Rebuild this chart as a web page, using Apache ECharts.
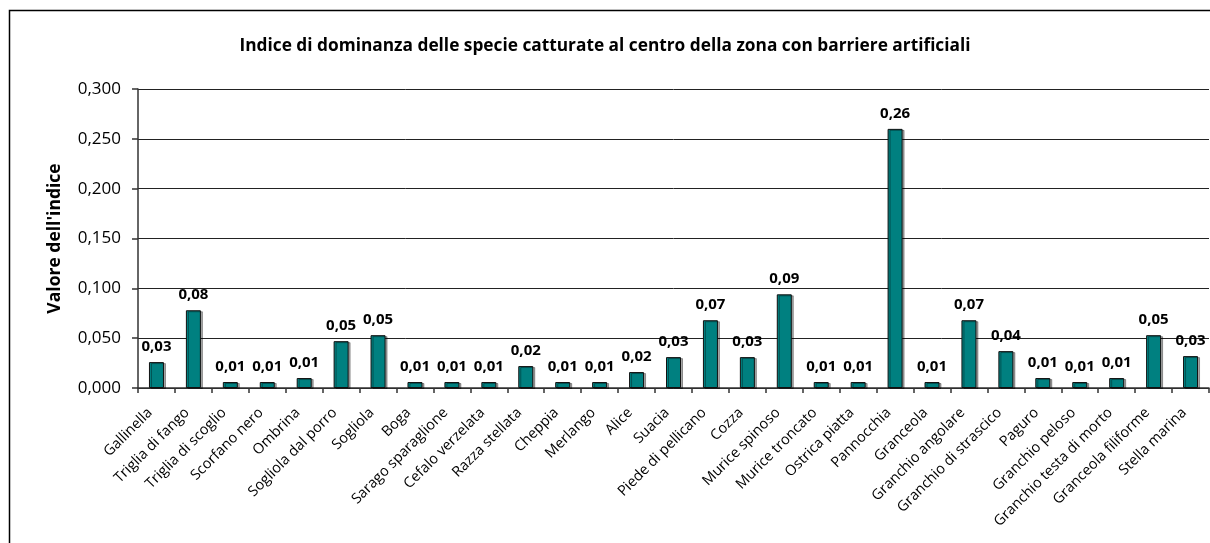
<!DOCTYPE html>
<html>
<head>
<meta charset="utf-8">
<script src="https://cdn.jsdelivr.net/npm/echarts@6/dist/echarts.min.js"></script>
<style>
  html, body { margin: 0; padding: 0; background: #fff; }
  #main { width: 1210px; height: 543px; }
</style>
</head>
<body>
<div id="main"></div>
<script>
// specie catturate
var specie = ['Gallinella', 'Triglia di fango', 'Triglia di scoglio', 'Scorfano nero', 'Ombrina',
  'Sogliola dal porro', 'Sogliola', 'Boga', 'Sarago sparaglione', 'Cefalo verzelata',
  'Razza stellata', 'Cheppia', 'Merlango', 'Alice', 'Suacia', 'Piede di pellicano', 'Cozza',
  'Murice spinoso', 'Murice troncato', 'Ostrica piatta', 'Pannocchia', 'Granceola',
  'Granchio angolare', 'Granchio di strascico', 'Paguro', 'Granchio peloso',
  'Granchio testa di morto', 'Granceola filiforme', 'Stella marina']
// valore dell'indice
var valori = [0.026, 0.078, 0.006, 0.006, 0.010,
  0.047, 0.053, 0.006, 0.006, 0.006,
  0.022, 0.006, 0.006, 0.016, 0.031, 0.068, 0.031,
  0.094, 0.006, 0.006, 0.260, 0.006,
  0.068, 0.037, 0.010, 0.006,
  0.010, 0.053, 0.032]
var yTicks = [0, 0.05, 0.1, 0.15, 0.2, 0.25, 0.3]

var font = '"Open Sans", Lato, sans-serif'
var chart = echarts.init(document.getElementById('main'))
chart.setOption({
  animation: false,
  textStyle: { fontFamily: font },
  title: {
    text: 'Indice di dominanza delle specie catturate al centro della zona con barriere artificiali',
    left: 'center',
    top: 33,
    textStyle: { fontSize: 17.3, fontWeight: 'bold', color: '#000', fontFamily: font }
  },
  // cornice esterna
  graphic: [{
    type: 'rect',
    shape: { x: 9.5, y: 10.5, width: 1300, height: 700 },
    style: { fill: 'none', stroke: '#000', lineWidth: 1.5 },
    silent: true
  }],
  grid: { left: 138, top: 89, right: 1, bottom: 155, containLabel: false },
  xAxis: {
    type: 'category',
    data: specie,
    axisLine: { lineStyle: { color: '#333', width: 1.5 } },
    axisTick: { show: true, length: 5, lineStyle: { color: '#333', width: 1.5 } },
    axisLabel: {
      rotate: 45,
      interval: 0,
      margin: 16,
      padding: [0, 9, 0, 0],
      fontSize: 14.5,
      color: '#000'
    }
  },
  yAxis: {
    type: 'value',
    min: yTicks[0],
    max: yTicks[yTicks.length - 1],
    interval: 0.05,
    name: "Valore dell'indice",
    nameLocation: 'middle',
    nameGap: 74,
    nameTextStyle: { fontSize: 17.5, fontWeight: 'bold', color: '#000' },
    axisLine: { show: true, lineStyle: { color: '#333', width: 1.5 } },
    axisTick: { show: true, length: 6, lineStyle: { color: '#333', width: 1.5 } },
    splitLine: { lineStyle: { color: '#222', width: 1 } },
    axisLabel: {
      fontSize: 17,
      color: '#000',
      margin: 17,
      formatter: function (v) { return v.toFixed(3).replace('.', ',') }
    }
  },
  series: [{
    type: 'bar',
    data: valori,
    barWidth: 15,
    itemStyle: {
      color: '#008080',
      borderColor: '#111',
      borderWidth: 1,
      shadowColor: 'rgba(0,0,0,0.35)',
      shadowOffsetX: 2,
      shadowOffsetY: 1,
      shadowBlur: 0
    },
    label: {
      show: true,
      position: 'top',
      distance: 8,
      fontSize: 15,
      fontWeight: 'bold',
      color: '#000',
      formatter: function (p) { return p.value.toFixed(2).replace('.', ',') }
    }
  }]
})
</script>
</body>
</html>
